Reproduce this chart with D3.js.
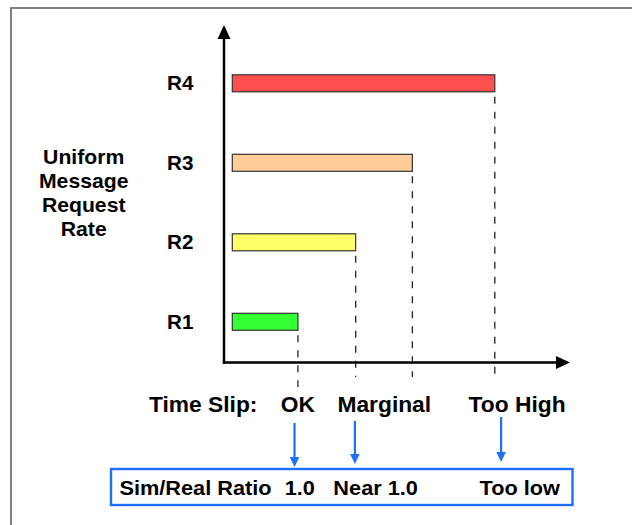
<!DOCTYPE html>
<html>
<head>
<meta charset="utf-8">
<script src="https://cdn.jsdelivr.net/npm/d3@7"></script>
<style>
  html, body { margin: 0; padding: 0; background: #fff; }
  svg { display: block; }
  text { font-family: "Liberation Sans", Arial, Helvetica, sans-serif; font-weight: bold; fill: #000; }
</style>
</head>
<body>
<script>
// ---- data ----
const categories = ["R1", "R2", "R3", "R4"];
const rateValues = [25, 47, 68.6, 100];          // relative time-slip extent per request rate
const yTitleLines = ["Uniform", "Message", "Request", "Rate"];
const timeSlipTitle = "Time Slip:";
const timeSlipLabels = ["OK", "Marginal", "Too High"];
const timeSlipValues = [25, 57.9, 108.5];
const arrowValues = [23.7, 46.7, 102.4];
const ratioTitle = "Sim/Real Ratio";
const ratioLabels = ["1.0", "Near 1.0", "Too low"];
const ratioValues = [25.7, 54.6, 109.5];

// ---- styles ----
const barColors = ["#33ff33", "#ffff66", "#ffcc99", "#ff5050"];
const blue = "#1f6fff";
const sx = 1.06;

const W = 632, H = 525;
const svg = d3.select("body").append("svg").attr("width", W).attr("height", H);

// frame (only top & left visible)
svg.append("rect").attr("x", 11).attr("y", 8).attr("width", 700).attr("height", 700)
  .attr("fill", "none").attr("stroke", "#808080").attr("stroke-width", 2);

const x = d3.scaleLinear().domain([0, 100]).range([232.3, 494.8]);
const y = d3.scalePoint().domain(categories.slice().reverse()).range([83.3, 321.8]);
const barH = 17;

const axisX = 224, axisY = 362.5;

function txt(str, px, py, size, anchor) {
  svg.append("text")
    .attr("transform", `translate(${px},${py}) scale(${sx},1)`)
    .attr("text-anchor", anchor || "start")
    .style("font-size", size + "px")
    .text(str);
}

// dashed drop lines
const dashEnds = [387, 377, 377, 377];
categories.forEach((c, i) => {
  svg.append("line")
    .attr("x1", x(rateValues[i])).attr("x2", x(rateValues[i]))
    .attr("y1", y(c) + barH / 2 + 5).attr("y2", dashEnds[i])
    .attr("stroke", "#222").attr("stroke-width", 1.3)
    .attr("stroke-dasharray", "7,8");
});

// bars
svg.selectAll("rect.bar").data(categories).enter().append("rect")
  .attr("class", "bar")
  .attr("x", x(0))
  .attr("y", d => y(d) - barH / 2)
  .attr("width", (d, i) => x(rateValues[i]) - x(0))
  .attr("height", barH)
  .attr("fill", (d, i) => barColors[i])
  .attr("stroke", "#333").attr("stroke-width", 1.2);

// category labels
categories.forEach(c => txt(c, 193.5, y(c) + 7, 19.5, "end"));

// axes
svg.append("line").attr("x1", axisX).attr("x2", axisX).attr("y1", axisY + 1.2).attr("y2", 38)
  .attr("stroke", "#000").attr("stroke-width", 2.5);
svg.append("path").attr("d", `M${axisX},25 L${axisX - 6.5},39 L${axisX + 6.5},39 Z`).attr("fill", "#000");
svg.append("line").attr("x1", axisX - 1.2).attr("x2", 557).attr("y1", axisY).attr("y2", axisY)
  .attr("stroke", "#000").attr("stroke-width", 2.5);
svg.append("path").attr("d", `M570,${axisY} L556,${axisY - 6.5} L556,${axisY + 6.5} Z`).attr("fill", "#000");

// y title
yTitleLines.forEach((t, i) => txt(t, 83.7, 164 + i * 24, 20, "middle"));

// time slip row
txt(timeSlipTitle, 149, 411.7, 21.5, "start");
timeSlipLabels.forEach((t, i) => txt(t, x(timeSlipValues[i]), 411.7, 21.5, "middle"));

// blue arrows
const arrowTops = [423, 421, 417], arrowTips = [467, 464, 462];
arrowValues.forEach((v, i) => {
  const ax = x(v);
  svg.append("line").attr("x1", ax).attr("x2", ax).attr("y1", arrowTops[i]).attr("y2", arrowTips[i] - 8)
    .attr("stroke", blue).attr("stroke-width", 2.2);
  svg.append("path").attr("d", `M${ax},${arrowTips[i]} L${ax - 4.8},${arrowTips[i] - 10} L${ax + 4.8},${arrowTips[i] - 10} Z`)
    .attr("fill", blue);
});

// ratio box
svg.append("rect").attr("x", 111).attr("y", 469).attr("width", 461.5).attr("height", 36)
  .attr("fill", "#fff").attr("stroke", blue).attr("stroke-width", 2.4);
txt(ratioTitle, 119.5, 495, 20.5, "start");
ratioLabels.forEach((t, i) => txt(t, x(ratioValues[i]), 495, 20.5, "middle"));
</script>
</body>
</html>
